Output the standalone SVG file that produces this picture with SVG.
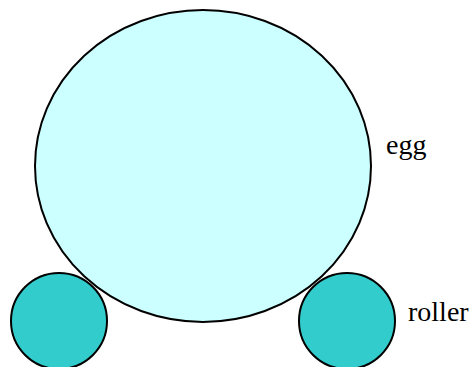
<svg xmlns="http://www.w3.org/2000/svg" width="473" height="367" viewBox="0 0 473 367">
<style>
.s{stroke:#000;stroke-width:2}
.egg{fill:#ccffff}
.roller{fill:#33cccc}
.t{font-family:"Liberation Serif","Times New Roman",serif;font-size:28px;fill:#000}
</style>
<rect width="473" height="367" fill="#fff"/>
<g id="egg"><ellipse class="s egg" cx="203" cy="166" rx="168" ry="156"/></g>
<g id="roller-left"><circle class="s roller" cx="59" cy="321" r="48"/></g>
<g id="roller-right"><circle class="s roller" cx="347" cy="321" r="48"/></g>
<g id="labels">
<text class="t" x="386" y="154">egg</text>
<text class="t" x="408" y="321">roller</text>
</g>
<g id="connectors"></g>
</svg>
